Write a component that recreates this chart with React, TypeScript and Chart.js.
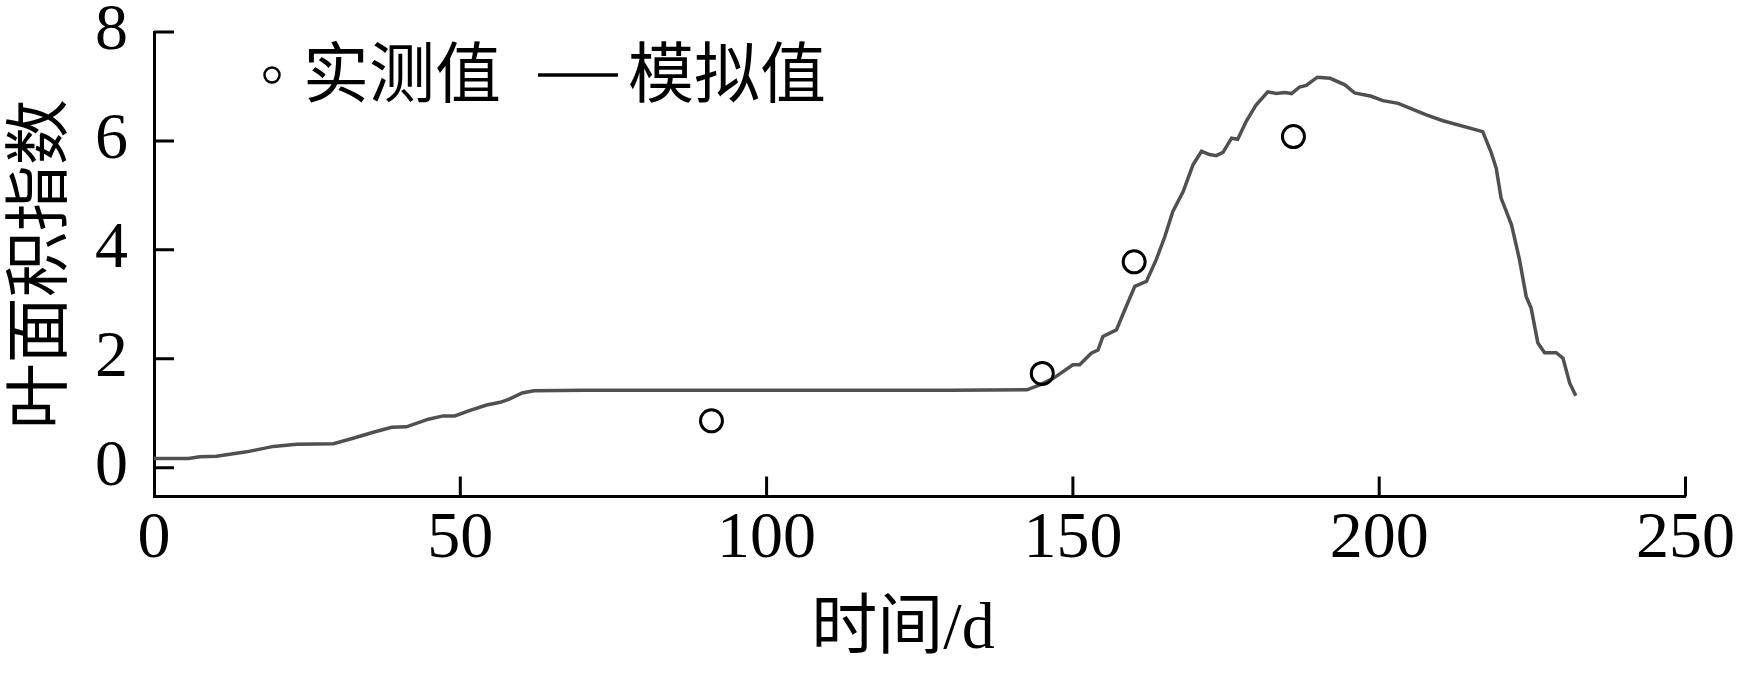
import { useEffect, useRef } from "react";
import { Chart, registerables } from "chart.js";

Chart.register(...registerables);

// simulated LAI (day, value)
const simDays = [
  0, 5.6, 7.5, 10.2, 15.1, 19.5, 23.3, 29.3, 32.5, 35.8, 38.8, 41.2, 44.8, 47.2, 49.1, 51.6, 54.3, 56.5, 58,
  60.1, 62, 70.3, 100, 130, 142.5, 144.6, 146.8, 150, 151.1, 153, 154.1, 154.9, 157.1, 158.7, 160.1, 162,
  163.6, 165, 166.3, 168, 169.6, 171, 172.3, 173.4, 174.5, 175.9, 176.9, 178.3, 179.9, 181.8, 183.2, 184.6,
  185.7, 187, 188.1, 189.9, 192, 194.4, 196, 198.7, 200.6, 203.1, 207.7, 210.4, 216.9, 218.3, 219.1, 219.9,
  221.6, 222.9, 224, 224.8, 225.9, 227, 228.9, 230, 231.1, 232.1,
];
const simLai = [
  0.17, 0.17, 0.2, 0.21, 0.29, 0.39, 0.43, 0.44, 0.54, 0.65, 0.74, 0.75, 0.89, 0.95, 0.95, 1.05, 1.15, 1.2, 1.26,
  1.37, 1.41, 1.42, 1.42, 1.42, 1.43, 1.52, 1.64, 1.89, 1.89, 2.1, 2.16, 2.41, 2.53, 2.96, 3.33, 3.42,
  3.82, 4.24, 4.7, 5.07, 5.56, 5.81, 5.75, 5.73, 5.79, 6.05, 6.03, 6.36, 6.66, 6.9, 6.87, 6.89,
  6.87, 6.99, 7.02, 7.17, 7.15, 7.03, 6.88, 6.82, 6.74, 6.69, 6.48, 6.37, 6.17, 5.78, 5.5, 4.95,
  4.46, 3.82, 3.14, 2.93, 2.29, 2.11, 2.11, 2.01, 1.55, 1.32,
];

// measured LAI
const obsDays = [91, 145, 160, 186];
const obsLai = [0.86, 1.73, 3.78, 6.08];

const xTicks = [0, 50, 100, 150, 200, 250];
const yTicks = [0, 2, 4, 6, 8];

const SERIF = "'Liberation Serif', 'Times New Roman', 'Noto Sans CJK SC', serif";
const CJK = "'Noto Sans CJK SC', sans-serif";

// tick marks point into the plot
const innerTicks = {
  id: "innerTicks",
  afterDraw(chart: any) {
    const { ctx, chartArea, scales } = chart;
    ctx.save();
    ctx.strokeStyle = "#000";
    ctx.lineWidth = 3;
    ctx.beginPath();
    xTicks.forEach((v) => {
      if (v === 0) return;
      const px = scales.x.getPixelForValue(v);
      ctx.moveTo(px, chartArea.bottom);
      ctx.lineTo(px, chartArea.bottom - 20);
    });
    yTicks.forEach((v) => {
      const py = scales.y.getPixelForValue(v);
      ctx.moveTo(chartArea.left, py);
      ctx.lineTo(chartArea.left + 20, py);
    });
    ctx.stroke();
    ctx.restore();
  },
};

// legend inside the plot (top-left) and the x-axis title
const innerLegend = {
  id: "innerLegend",
  afterDraw(chart: any) {
    const { ctx, chartArea } = chart;
    const x0 = chartArea.left;
    const y0 = chartArea.top + 43;
    ctx.save();
    ctx.strokeStyle = "#000";
    ctx.fillStyle = "#000";
    ctx.lineWidth = 2.5;
    ctx.beginPath();
    ctx.arc(x0 + 118, y0, 7.5, 0, Math.PI * 2);
    ctx.stroke();
    ctx.lineWidth = 3.5;
    ctx.beginPath();
    ctx.moveTo(x0 + 384, y0);
    ctx.lineTo(x0 + 464, y0);
    ctx.stroke();
    ctx.font = `66px ${CJK}`;
    ctx.textBaseline = "middle";
    ctx.textAlign = "left";
    ctx.fillText("实测值", x0 + 149, y0 - 3);
    ctx.fillText("模拟值", x0 + 474, y0 - 3);

    ctx.font = `66px ${SERIF}`;
    ctx.textAlign = "center";
    ctx.fillText("时间/d", x0 + 749, chartArea.bottom + 134.5);
    ctx.restore();
  },
};

export default function App() {
  const canvasRef = useRef<HTMLCanvasElement>(null);

  useEffect(() => {
    if (!canvasRef.current) return;

    const chart = new Chart(canvasRef.current, {
      type: "line",
      data: {
        datasets: [
          {
            type: "scatter",
            label: "实测值",
            data: obsDays.map((d, i) => ({ x: d, y: obsLai[i] })),
            pointRadius: 11,
            pointHoverRadius: 11,
            pointBorderWidth: 3,
            pointBorderColor: "#000",
            pointBackgroundColor: "rgba(0,0,0,0)",
            showLine: false,
          },
          {
            type: "line",
            label: "模拟值",
            data: simDays.map((d, i) => ({ x: d, y: simLai[i] })),
            borderColor: "#505050",
            borderWidth: 3.5,
            pointRadius: 0,
            tension: 0,
            fill: false,
          },
        ],
      },
      options: {
        animation: false,
        responsive: true,
        maintainAspectRatio: false,
        layout: { padding: { top: 32, right: 59, bottom: 0, left: 0 } },
        plugins: { legend: { display: false }, tooltip: { enabled: false } },
        scales: {
          x: {
            type: "linear",
            min: 0,
            max: 250,
            afterBuildTicks: (scale: any) => {
              scale.ticks = xTicks.map((v) => ({ value: v }));
            },
            afterFit: (scale: any) => {
              scale.height = 194.5;
            },
            ticks: {
              color: "#000",
              font: { family: SERIF, size: 66, lineHeight: 1 },
              padding: 10,
              maxRotation: 0,
              autoSkip: false,
            },
            grid: { display: false, drawTicks: false },
            border: { display: true, color: "#000", width: 3 },
          },
          y: {
            type: "linear",
            min: -0.53,
            max: 8,
            afterBuildTicks: (scale: any) => {
              scale.ticks = yTicks.map((v) => ({ value: v }));
            },
            afterFit: (scale: any) => {
              scale.width = 154;
            },
            ticks: {
              color: "#000",
              // small lineHeight keeps the label padding from pushing the plot down
              font: { family: SERIF, size: 66, lineHeight: 0.1 },
              padding: 26,
            },
            grid: { display: false, drawTicks: false },
            border: { display: true, color: "#000", width: 3 },
            title: {
              display: true,
              text: "叶面积指数",
              color: "#000",
              font: { family: CJK, size: 66, lineHeight: 1 },
              padding: { top: 3, bottom: 0 },
            },
          },
        },
      },
      plugins: [innerTicks, innerLegend],
    });

    return () => chart.destroy();
  }, []);

  return (
    <div style={{ position: "absolute", left: 0, top: 0, width: 1745, height: 691, background: "#fff" }}>
      <canvas ref={canvasRef} />
    </div>
  );
}
